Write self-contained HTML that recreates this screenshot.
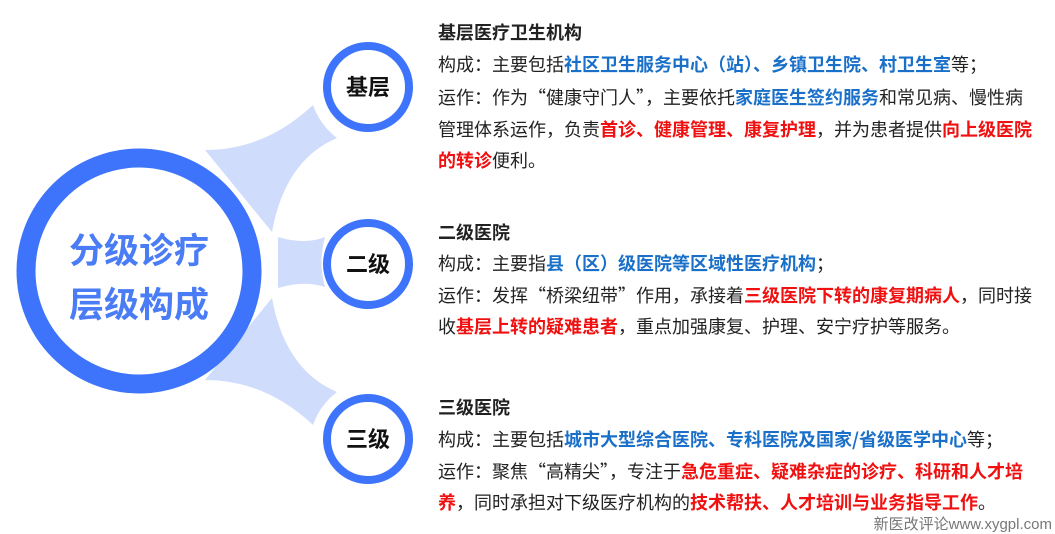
<!DOCTYPE html>
<html><head><meta charset="utf-8"><style>
body{margin:0;width:1055px;height:534px;background:#fff;position:relative;overflow:hidden;font-family:"Liberation Sans","Noto Sans CJK SC",sans-serif;}
.l{position:absolute;left:438px;white-space:nowrap;font-family:"Noto Sans CJK SC",sans-serif;font-size:18px;line-height:32px;height:32px;color:#222;}
.t{font-weight:bold;font-size:18px;color:#222;}
.b{color:#1a70c8;font-weight:bold;}
.r{color:#f01010;font-weight:bold;}
.wm{position:absolute;right:3px;top:513px;font-size:15px;color:#777;white-space:nowrap;}
</style></head><body>
<svg width="1055" height="534" style="position:absolute;left:0;top:0">
<g fill="#cfdcfb">
<path id="tp" d="M205,150 Q265,150 313,105 Q320,125 337,138 Q285,160 272,232 Z"/>
<use href="#tp" transform="translate(0,530) scale(1,-1)"/>
<path d="M278,237 Q305,245 325,237 Q318,262 325,287 Q305,280 278,288 Z"/>
</g>
<circle cx="139" cy="271" r="113" fill="#fff" stroke="#3d74fb" stroke-width="19"/>
<circle cx="368" cy="87" r="41" fill="#fff" stroke="#3d74fb" stroke-width="8"/>
<circle cx="368" cy="264" r="41" fill="#fff" stroke="#3d74fb" stroke-width="8"/>
<circle cx="368" cy="439" r="41" fill="#fff" stroke="#3d74fb" stroke-width="8"/>
<g font-family="Liberation Sans,Noto Sans CJK SC,sans-serif" font-weight="bold" text-anchor="middle">
<text x="139" y="263" font-size="35" fill="#4a7cf6">分级诊疗</text>
<text x="139" y="317" font-size="35" fill="#4a7cf6">层级构成</text>
<text x="368" y="95" font-size="22" fill="#111">基层</text>
<text x="368" y="272" font-size="22" fill="#111">二级</text>
<text x="368" y="447" font-size="22" fill="#111">三级</text>
</g>
</svg>
<div class="l t" style="top:16px">基层医疗卫生机构</div>
<div class="l" style="top:48px">构成：主要包括<span class="b">社区卫生服务中心（站）、乡镇卫生院、村卫生室</span>等；</div>
<div class="l" style="top:81px">运作：作为“健康守门人”，主要依托<span class="b">家庭医生签约服务</span>和常见病、慢性病</div>
<div class="l" style="top:113px">管理体系运作，负责<span class="r">首诊、健康管理、康复护理</span>，并为患者提供<span class="r">向上级医院</span></div>
<div class="l" style="top:144px"><span class="r">的转诊</span>便利。</div>
<div class="l t" style="top:216px">二级医院</div>
<div class="l" style="top:247px">构成：主要指<span class="b">县（区）级医院等区域性医疗机构</span>；</div>
<div class="l" style="top:279px">运作：发挥“桥梁纽带”作用，承接着<span class="r">三级医院下转的康复期病人</span>，同时接</div>
<div class="l" style="top:310px">收<span class="r">基层上转的疑难患者</span>，重点加强康复、护理、安宁疗护等服务。</div>
<div class="l t" style="top:391px">三级医院</div>
<div class="l" style="top:423px">构成：主要包括<span class="b">城市大型综合医院、专科医院及国家/省级医学中心</span>等；</div>
<div class="l" style="top:455px">运作：聚焦“高精尖”，专注于<span class="r">急危重症、疑难杂症的诊疗、科研和人才培</span></div>
<div class="l" style="top:486px"><span class="r">养</span>，同时承担对下级医疗机构的<span class="r">技术帮扶、人才培训与业务指导工作</span>。</div>
<div class="wm">新医改评论www.xygpl.com</div>
</body></html>
